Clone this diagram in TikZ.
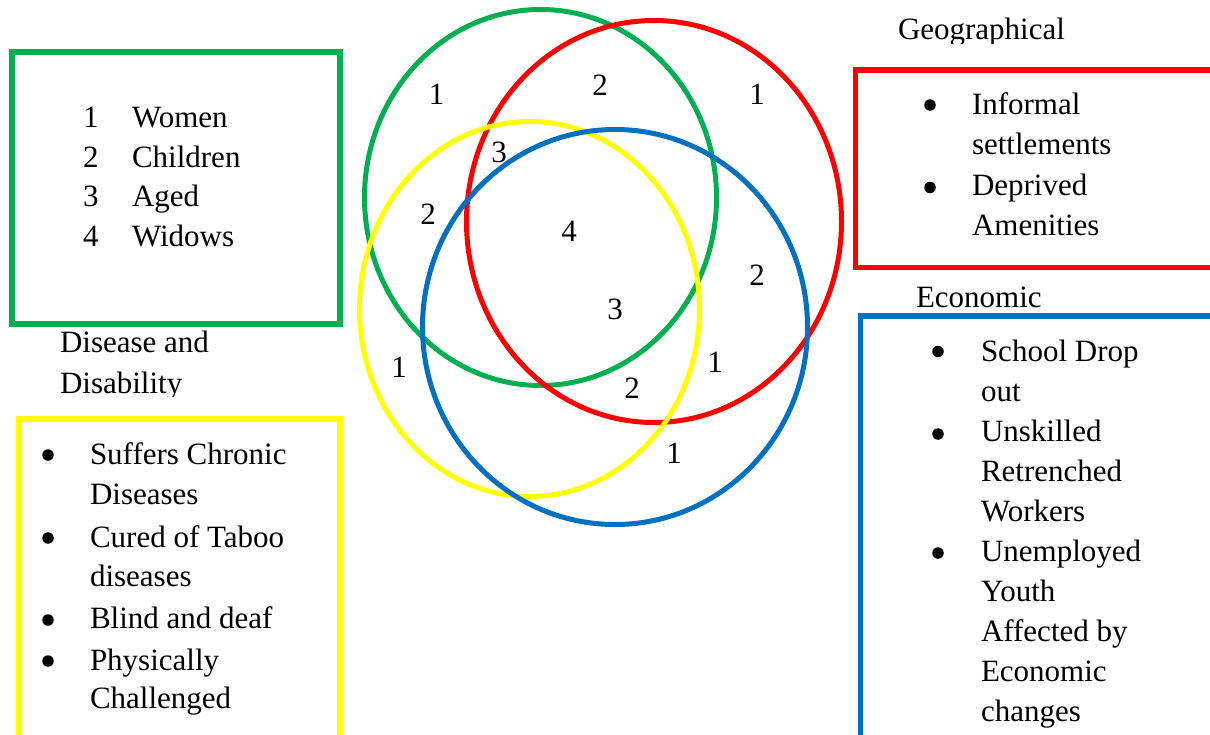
\documentclass[tikz,border=0pt]{standalone}
\usepackage{fontspec}
\setmainfont{Liberation Serif}
\definecolor{vgreen}{HTML}{00B050}
\definecolor{vred}{HTML}{FF0000}
\definecolor{vyellow}{HTML}{FFFF00}
\definecolor{vblue}{HTML}{0070C0}
\begin{document}
\begin{tikzpicture}[x=1pt,y=-1pt,
  txt/.style={anchor=base west,inner sep=0pt,outer sep=0pt,font=\fontsize{31}{40}\selectfont},
  bul/.style={circle,fill=black,minimum size=11.5pt,inner sep=0pt,outer sep=0pt},
  dig/.style={anchor=base,inner sep=0pt,outer sep=0pt,font=\fontsize{31}{40}\selectfont},
  ring/.style={line width=5pt},
  frame/.style={line width=5.5pt}]
\clip (0,0) rectangle (1210,734);
\fill[white] (0,0) rectangle (1210,734);

% Venn ellipses
\draw[ring,vgreen]  (540.5,197.5) ellipse [x radius=176pt, y radius=188pt];
\draw[ring,vred]    (654,221.5)   ellipse [x radius=187.5pt, y radius=201pt];
\draw[ring,vyellow] (529.5,309)   ellipse [x radius=170pt, y radius=187.5pt];
\draw[ring,vblue]   (615,327)     ellipse [x radius=192.5pt, y radius=197.5pt];

% Venn numbers
\node[dig] (n1)  at (436.5,104) {1};
\node[dig] (n2)  at (600,95)    {2};
\node[dig] (n3)  at (757,104)   {1};
\node[dig] (n4)  at (499,162)   {3};
\node[dig] (n5)  at (428,224)   {2};
\node[dig] (n6)  at (569,241)   {4};
\node[dig] (n7)  at (757,285)   {2};
\node[dig] (n8)  at (615,319)   {3};
\node[dig] (n9)  at (715,372)   {1};
\node[dig] (n10) at (399,377)   {1};
\node[dig] (n11) at (632,398)   {2};
\node[dig] (n12) at (674,463)   {1};

% Green box
\draw[frame,vgreen] (12,52) rectangle (340,324);
\node[txt] (g1n) at (83,127)   {1};
\node[txt] (g1t) at (132,127)  {Women};
\node[txt] (g2n) at (83,167.5) {2};
\node[txt] (g2t) at (132,167.5){Children};
\node[txt] (g3n) at (83,206.5) {3};
\node[txt] (g3t) at (132,206.5){Aged};
\node[txt] (g4n) at (83,246)   {4};
\node[txt] (g4t) at (132,246)  {Widows};

% Red box
\begin{scope}
\clip (0,0) rectangle (1210,43);
\node[txt] (geo) at (898,39) {Geographical};
\end{scope}
\draw[frame,vred] (855.5,70) rectangle (1215,267.5);
\node[bul] (rb1) at (930,105) {};
\node[txt] (r1a) at (972,114) {Informal};
\node[txt] (r1b) at (972,154) {settlements};
\node[bul] (rb2) at (930,187.5) {};
\node[txt] (r2a) at (972,195) {Deprived};
\node[txt] (r2b) at (972,235) {Amenities};

% Blue box
\node[txt] (eco) at (916,307) {Economic};
\draw[frame,vblue] (860.5,316) rectangle (1215,745);
\node[bul] (bb1) at (938,351.5) {};
\node[txt] (b1a) at (981,361) {School Drop};
\node[txt] (b1b) at (981,401) {out};
\node[bul] (bb2) at (938,434) {};
\node[txt] (b2a) at (981,441) {Unskilled};
\node[txt] (b2b) at (981,481) {Retrenched};
\node[txt] (b2c) at (981,521) {Workers};
\node[bul] (bb3) at (938,553) {};
\node[txt] (b3a) at (981,561) {Unemployed};
\node[txt] (b3b) at (981,601) {Youth};
\node[txt] (b3c) at (981,641) {Affected by};
\node[txt] (b3d) at (981,681) {Economic};
\node[txt] (b3e) at (981,721) {changes};

% Yellow box
\node[txt] (dis1) at (60,352) {Disease and};
\begin{scope}
\clip (0,0) rectangle (1210,396);
\node[txt] (dis2) at (60,393) {Disability};
\end{scope}
\draw[frame,vyellow] (19,419) rectangle (340,745);
\node[bul] (yb1) at (48,455) {};
\node[txt] (y1a) at (90,464) {Suffers Chronic};
\node[txt] (y1b) at (90,504) {Diseases};
\node[bul] (yb2) at (48,538) {};
\node[txt] (y2a) at (90,547) {Cured of Taboo};
\node[txt] (y2b) at (90,586) {diseases};
\node[bul] (yb3) at (48,620) {};
\node[txt] (y3a) at (90,628) {Blind and deaf};
\node[bul] (yb4) at (48,661) {};
\node[txt] (y4a) at (90,670) {Physically};
\node[txt] (y4b) at (90,708) {Challenged};
\end{tikzpicture}
\end{document}
